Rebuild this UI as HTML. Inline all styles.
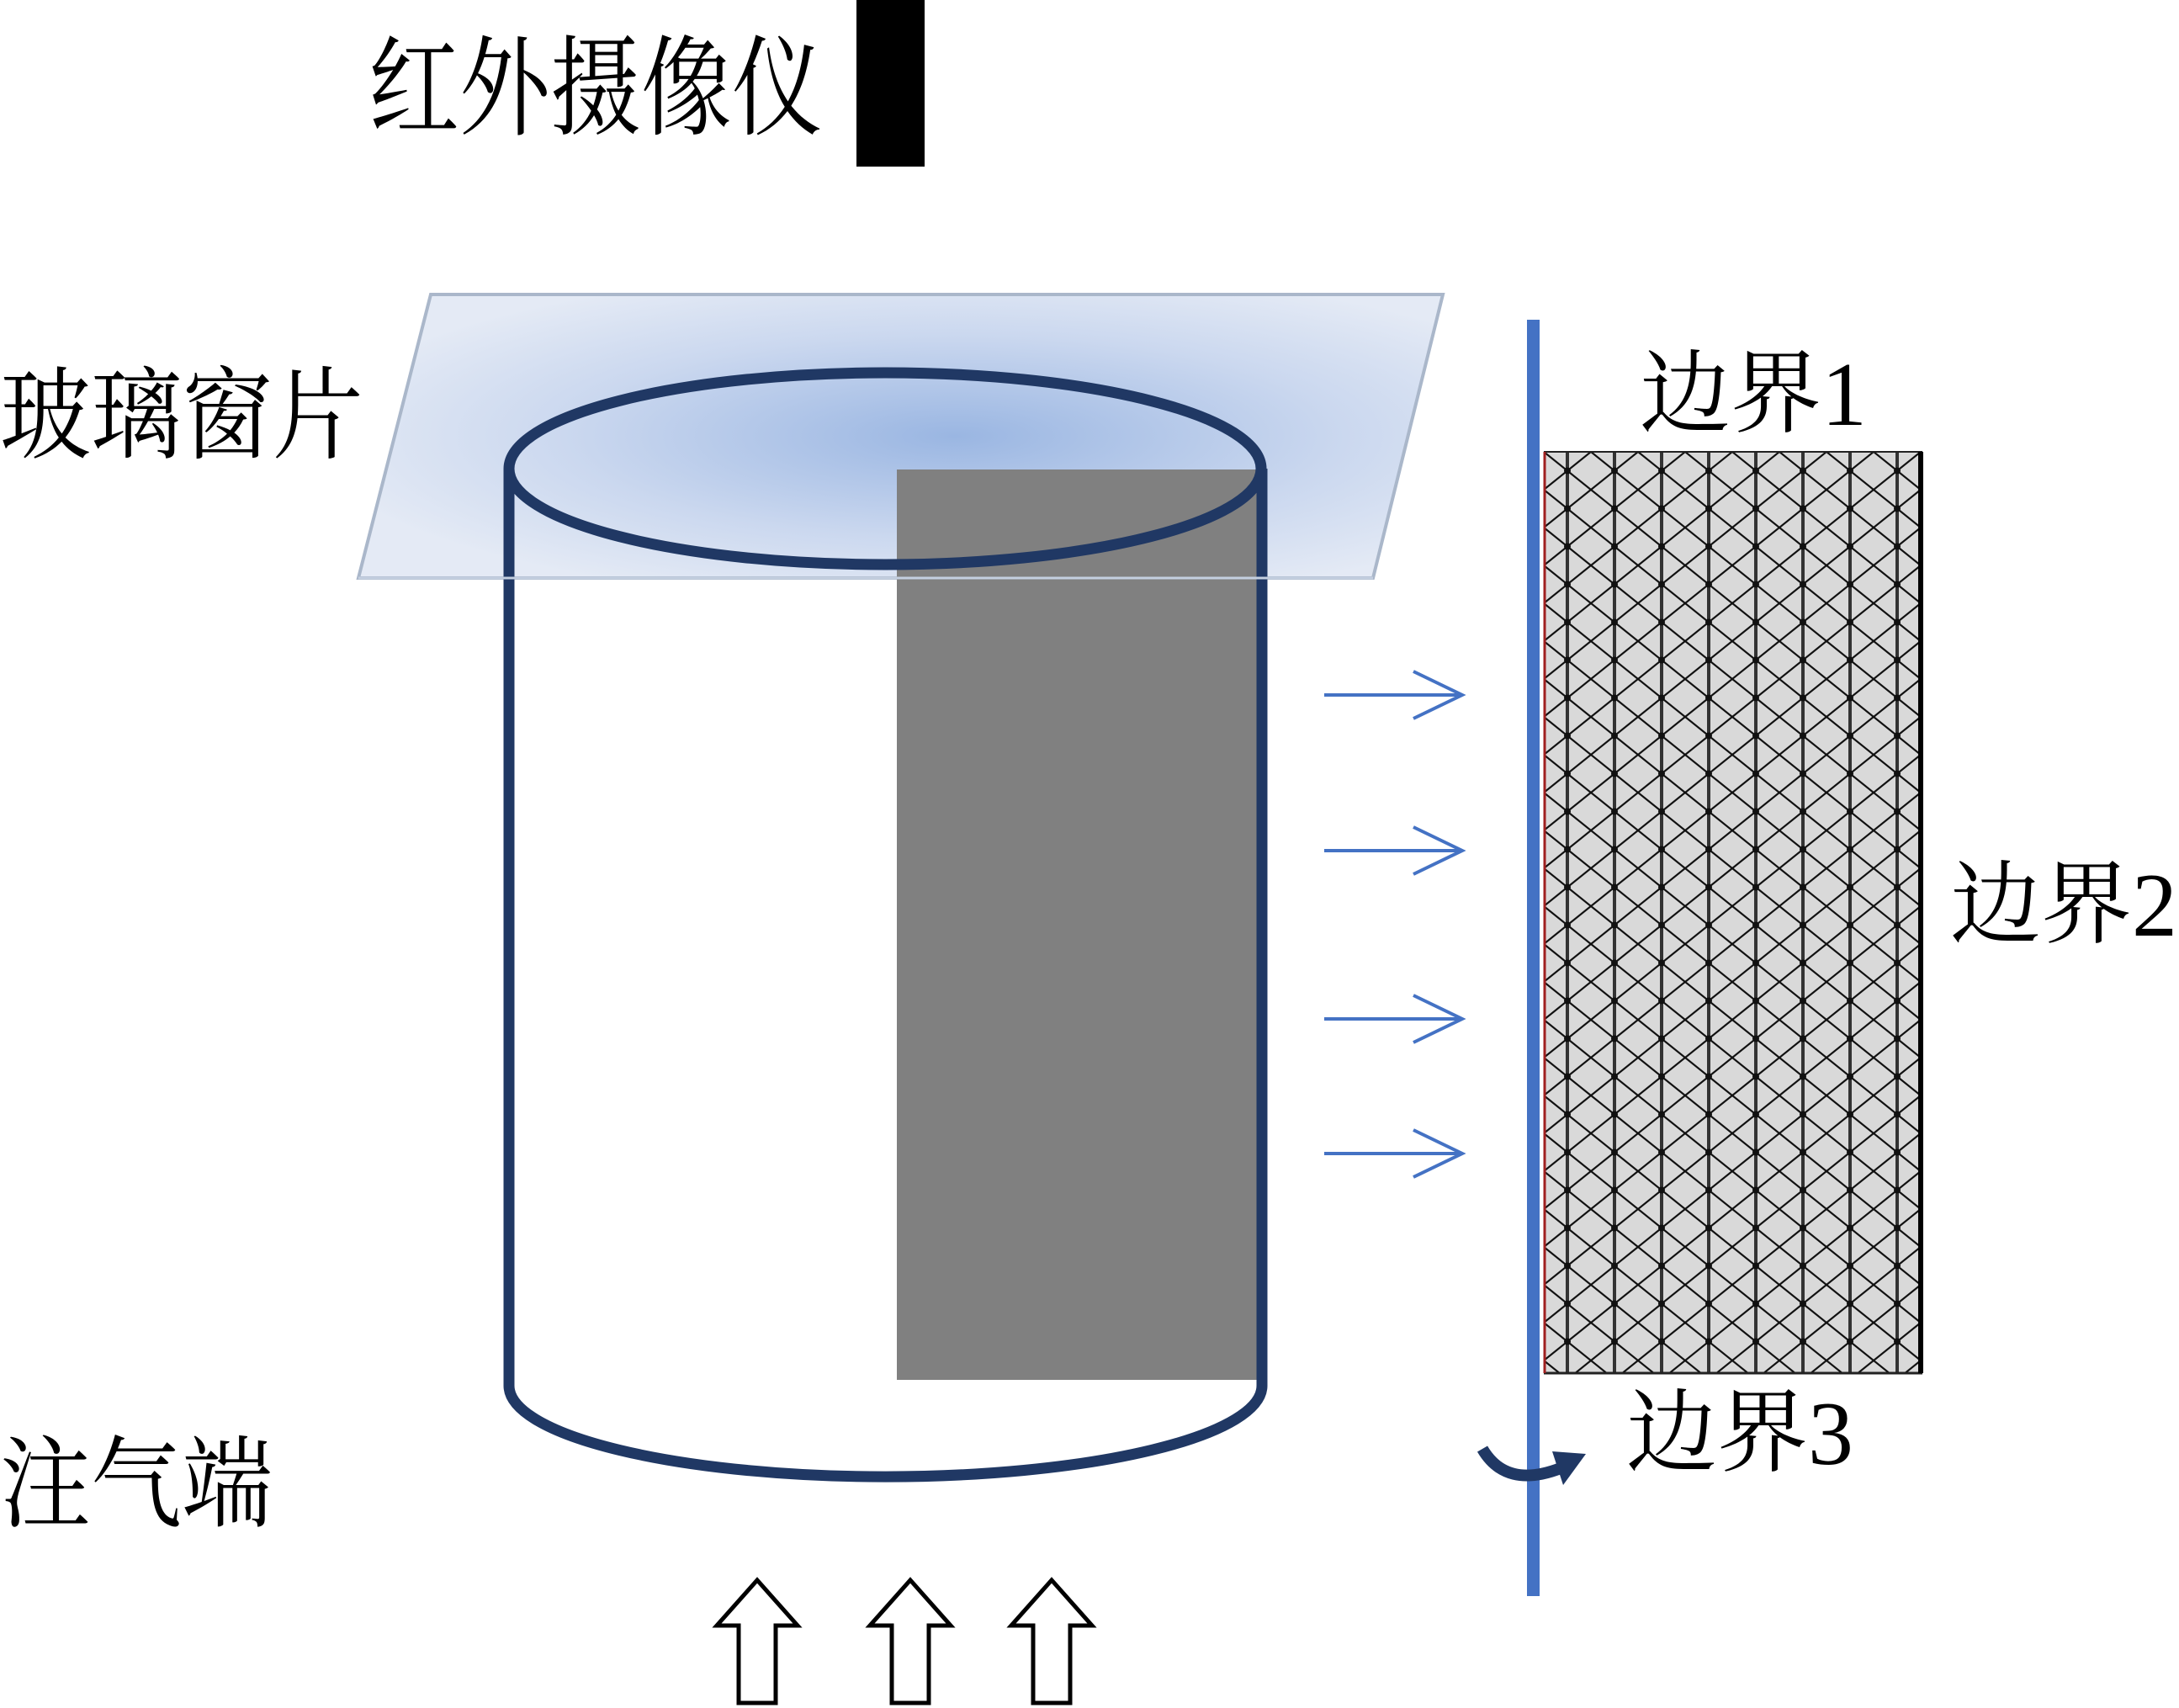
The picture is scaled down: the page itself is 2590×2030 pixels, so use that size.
<!DOCTYPE html>
<html><head><meta charset="utf-8"><style>
html,body{margin:0;padding:0;background:#fff;}
svg{display:block;}
text{font-family:"Liberation Serif","Noto Serif CJK SC",serif;fill:#000;}
</style></head><body>
<svg width="2590" height="2030" viewBox="0 0 2590 2030" xmlns="http://www.w3.org/2000/svg">
<defs>
<radialGradient id="gl" cx="0.5" cy="0.5" r="0.6" gradientTransform="translate(0.05,0) scale(1,1)">
<stop offset="0" stop-color="#9ab6e2"/>
<stop offset="0.6" stop-color="#cbd8ef"/>
<stop offset="1" stop-color="#e4eaf5"/>
</radialGradient>
<pattern id="mesh" x="1835" y="537" width="56" height="90" patternUnits="userSpaceOnUse">
<rect width="56" height="90" fill="#d9d9d9"/>
<g stroke="#111" stroke-width="2.2" fill="none">
<line x1="28" y1="0" x2="28" y2="90" stroke-width="4" stroke="#333"/>
<line x1="0" y1="0" x2="56" y2="45"/>
<line x1="56" y1="0" x2="0" y2="45"/>
<line x1="0" y1="45" x2="56" y2="90"/>
<line x1="56" y1="45" x2="0" y2="90"/>
</g>
<circle cx="28" cy="22.5" r="4" fill="#111"/>
<circle cx="28" cy="67.5" r="4" fill="#111"/>
</pattern>
</defs>

<rect x="1018" y="0" width="81" height="198" fill="#000"/>
<text x="438" y="150" font-size="108" transform="translate(438,150) scale(1,1.2) translate(-438,-150)">红外摄像仪</text>

<polygon points="512,350 1715,350 1632,687 426,687" fill="url(#gl)" stroke="#aab7ca" stroke-width="4"/>

<rect x="1066" y="558" width="429" height="1082" fill="#808080"/>

<g fill="none" stroke="#203864" stroke-width="13">
<ellipse cx="1052" cy="557" rx="447" ry="114"/>
<line x1="605" y1="557" x2="605" y2="1647"/>
<line x1="1500" y1="557" x2="1500" y2="1647"/>
<path d="M605,1647 A447,108 0 0 0 1500,1647"/>
</g>
<line x1="426" y1="687" x2="1632" y2="687" stroke="#c4cfe0" stroke-width="3"/>

<text x="0" y="535" font-size="108" transform="translate(0,535) scale(1,1.1) translate(0,-535)">玻璃窗片</text>
<text x="0" y="1805" font-size="108" transform="translate(0,1805) scale(1,1.1) translate(0,-1805)">注气端</text>

<g fill="#fff" stroke="#000" stroke-width="5">
<polygon points="900,1878 948,1932 922,1932 922,2024 878,2024 878,1932 852,1932"/>
<polygon points="1082,1878 1130,1932 1104,1932 1104,2024 1060,2024 1060,1932 1034,1932"/>
<polygon points="1250,1878 1298,1932 1272,1932 1272,2024 1228,2024 1228,1932 1202,1932"/>
</g>

<g fill="none" stroke="#4472c4" stroke-width="4">
<path d="M1574,826 H1736 M1680,798 L1738,826 L1680,854"/>
<path d="M1574,1011 H1736 M1680,983 L1738,1011 L1680,1039"/>
<path d="M1574,1211 H1736 M1680,1183 L1738,1211 L1680,1239"/>
<path d="M1574,1371 H1736 M1680,1343 L1738,1371 L1680,1399"/>
</g>

<rect x="1835" y="537" width="450" height="1095" fill="url(#mesh)"/>
<line x1="1835" y1="537" x2="2285" y2="537" stroke="#222" stroke-width="2"/>
<line x1="1835" y1="1632" x2="2285" y2="1632" stroke="#222" stroke-width="3"/>
<line x1="2283" y1="537" x2="2283" y2="1632" stroke="#000" stroke-width="6"/>
<line x1="1836" y1="537" x2="1836" y2="1632" stroke="#a02020" stroke-width="3"/>

<rect x="1815" y="380" width="15" height="1517" fill="#4472c4"/>
<path d="M1762,1722 Q1790,1770 1855,1745" fill="none" stroke="#203864" stroke-width="14"/>
<polygon points="1845,1725 1885,1728 1858,1765" fill="#203864"/>

<text x="1949" y="505" font-size="108">边界1</text>
<text x="2318" y="1112" font-size="108">边界2</text>
<text x="1933" y="1740" font-size="108">边界3</text>
</svg>
</body></html>
